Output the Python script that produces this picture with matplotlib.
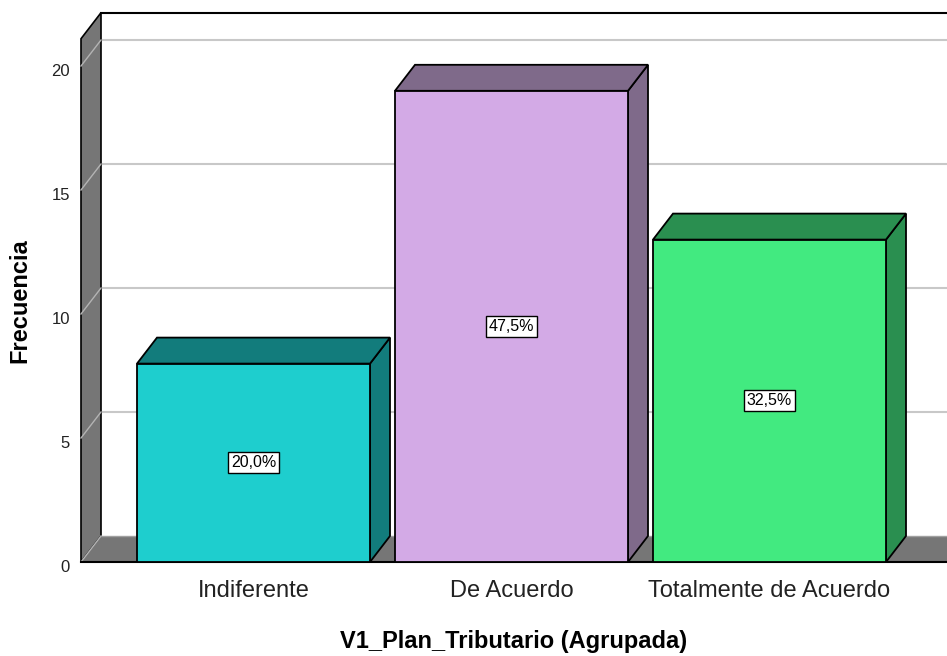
import matplotlib
matplotlib.use("Agg")
import matplotlib.pyplot as plt
import matplotlib.transforms as mtransforms
from matplotlib.patches import Polygon

# data
categories = ["Indiferente", "De Acuerdo", "Totalmente de Acuerdo"]
counts = [8, 19, 13]
front_colors = ["#1ECECE", "#D3AAE6", "#42EA80"]
shade_colors = ["#127C7C", "#7F6A8A", "#2A8F50"]
y_ticks = [0, 5, 10, 15, 20]

plt.rcParams['font.family'] = ['Liberation Sans', 'DejaVu Sans']

fig = plt.figure(figsize=(9.47, 6.56), dpi=100)
W, H = 947, 656
# front plane of the 3D box, in pixels
left_px, bottom_px, right_px = 81, 562, 947
px_per_unit = 24.8
y_top = 21.1
ax = fig.add_axes([left_px / W, (H - bottom_px) / H,
                   (right_px - left_px) / W, y_top * px_per_unit / H])

slot = 258.0
x0 = (left_px - 253.5) / slot
x1 = (right_px - 253.5) / slot
ax.set_xlim(x0, x1)
ax.set_ylim(0, y_top)
for s in ax.spines.values():
    s.set_visible(False)

# depth of the 3D effect in data units
dx = 20 / slot
dy = 26 / px_per_unit
bar_w = 233 / slot

# back wall gridlines
for v in y_ticks[1:]:
    ax.plot([x0 + dx, x1], [v + dy, v + dy], color="#c8c8c8", lw=1.5, zorder=1, clip_on=False)

# left wall
wall = Polygon([(x0, 0), (x0 + dx, dy), (x0 + dx, y_top + dy), (x0, y_top)],
               closed=True, facecolor="#767676", edgecolor="black", lw=1.2, zorder=2, clip_on=False)
ax.add_patch(wall)
for v in y_ticks:
    ax.plot([x0, x0 + dx], [v, v + dy], color="#b4b4b4", lw=1, zorder=3, clip_on=False)

# floor
floor = Polygon([(x0, 0), (x1, 0), (x1 + dx, dy), (x0 + dx, dy)],
                closed=True, facecolor="#767676", edgecolor="none", zorder=2, clip_on=False)
ax.add_patch(floor)
ax.plot([x0 + dx, x1], [dy, dy], color="#a0a0a0", lw=1, zorder=3, clip_on=False)
ax.plot([x0, x1], [0, 0], color="black", lw=1.5, zorder=3, clip_on=False)

# top frame line of back wall
ax.plot([x0 + dx, x1], [y_top + dy, y_top + dy], color="black", lw=1.5, zorder=3, clip_on=False)

# bars: front face through ax.bar, then side and top faces
xs = list(range(len(categories)))
bars = ax.bar(xs, counts, width=bar_w, color=front_colors, edgecolor="black", lw=1.3, zorder=6)
total = sum(counts)
for x, c, sc in zip(xs, counts, shade_colors):
    l, r = x - bar_w / 2, x + bar_w / 2
    side = Polygon([(r, 0), (r + dx, dy), (r + dx, c + dy), (r, c)],
                   closed=True, facecolor=sc, edgecolor="black", lw=1.3, zorder=5, clip_on=False)
    top = Polygon([(l, c), (l + dx, c + dy), (r + dx, c + dy), (r, c)],
                  closed=True, facecolor=sc, edgecolor="black", lw=1.3, zorder=5, clip_on=False)
    ax.add_patch(side)
    ax.add_patch(top)
    pct = f"{100 * c / total:.1f}%".replace(".", ",")
    ax.text(x, c / 2, pct, ha="center", va="center", fontsize=11.5, zorder=8,
            bbox=dict(boxstyle="square,pad=0.2", facecolor="white", edgecolor="black", lw=1))

ax.set_yticks(y_ticks)
ax.set_xticks(xs)
ax.set_xticklabels(categories, fontsize=17, color="#222222")
ax.tick_params(axis="y", length=0, pad=8, labelsize=12, labelcolor="#222222")
ax.tick_params(axis="x", length=0, pad=13)
# SPSS puts the value labels slightly below the front gridline ends
shift = mtransforms.ScaledTranslation(0, -4 / 100, fig.dpi_scale_trans)
for lab in ax.get_yticklabels():
    lab.set_transform(lab.get_transform() + shift)
ax.set_xlabel("V1_Plan_Tributario (Agrupada)", fontsize=17, fontweight="bold", labelpad=20)
ax.set_ylabel("Frecuencia", fontsize=17, fontweight="bold", labelpad=14)

fig.savefig("out.png", dpi=100)
